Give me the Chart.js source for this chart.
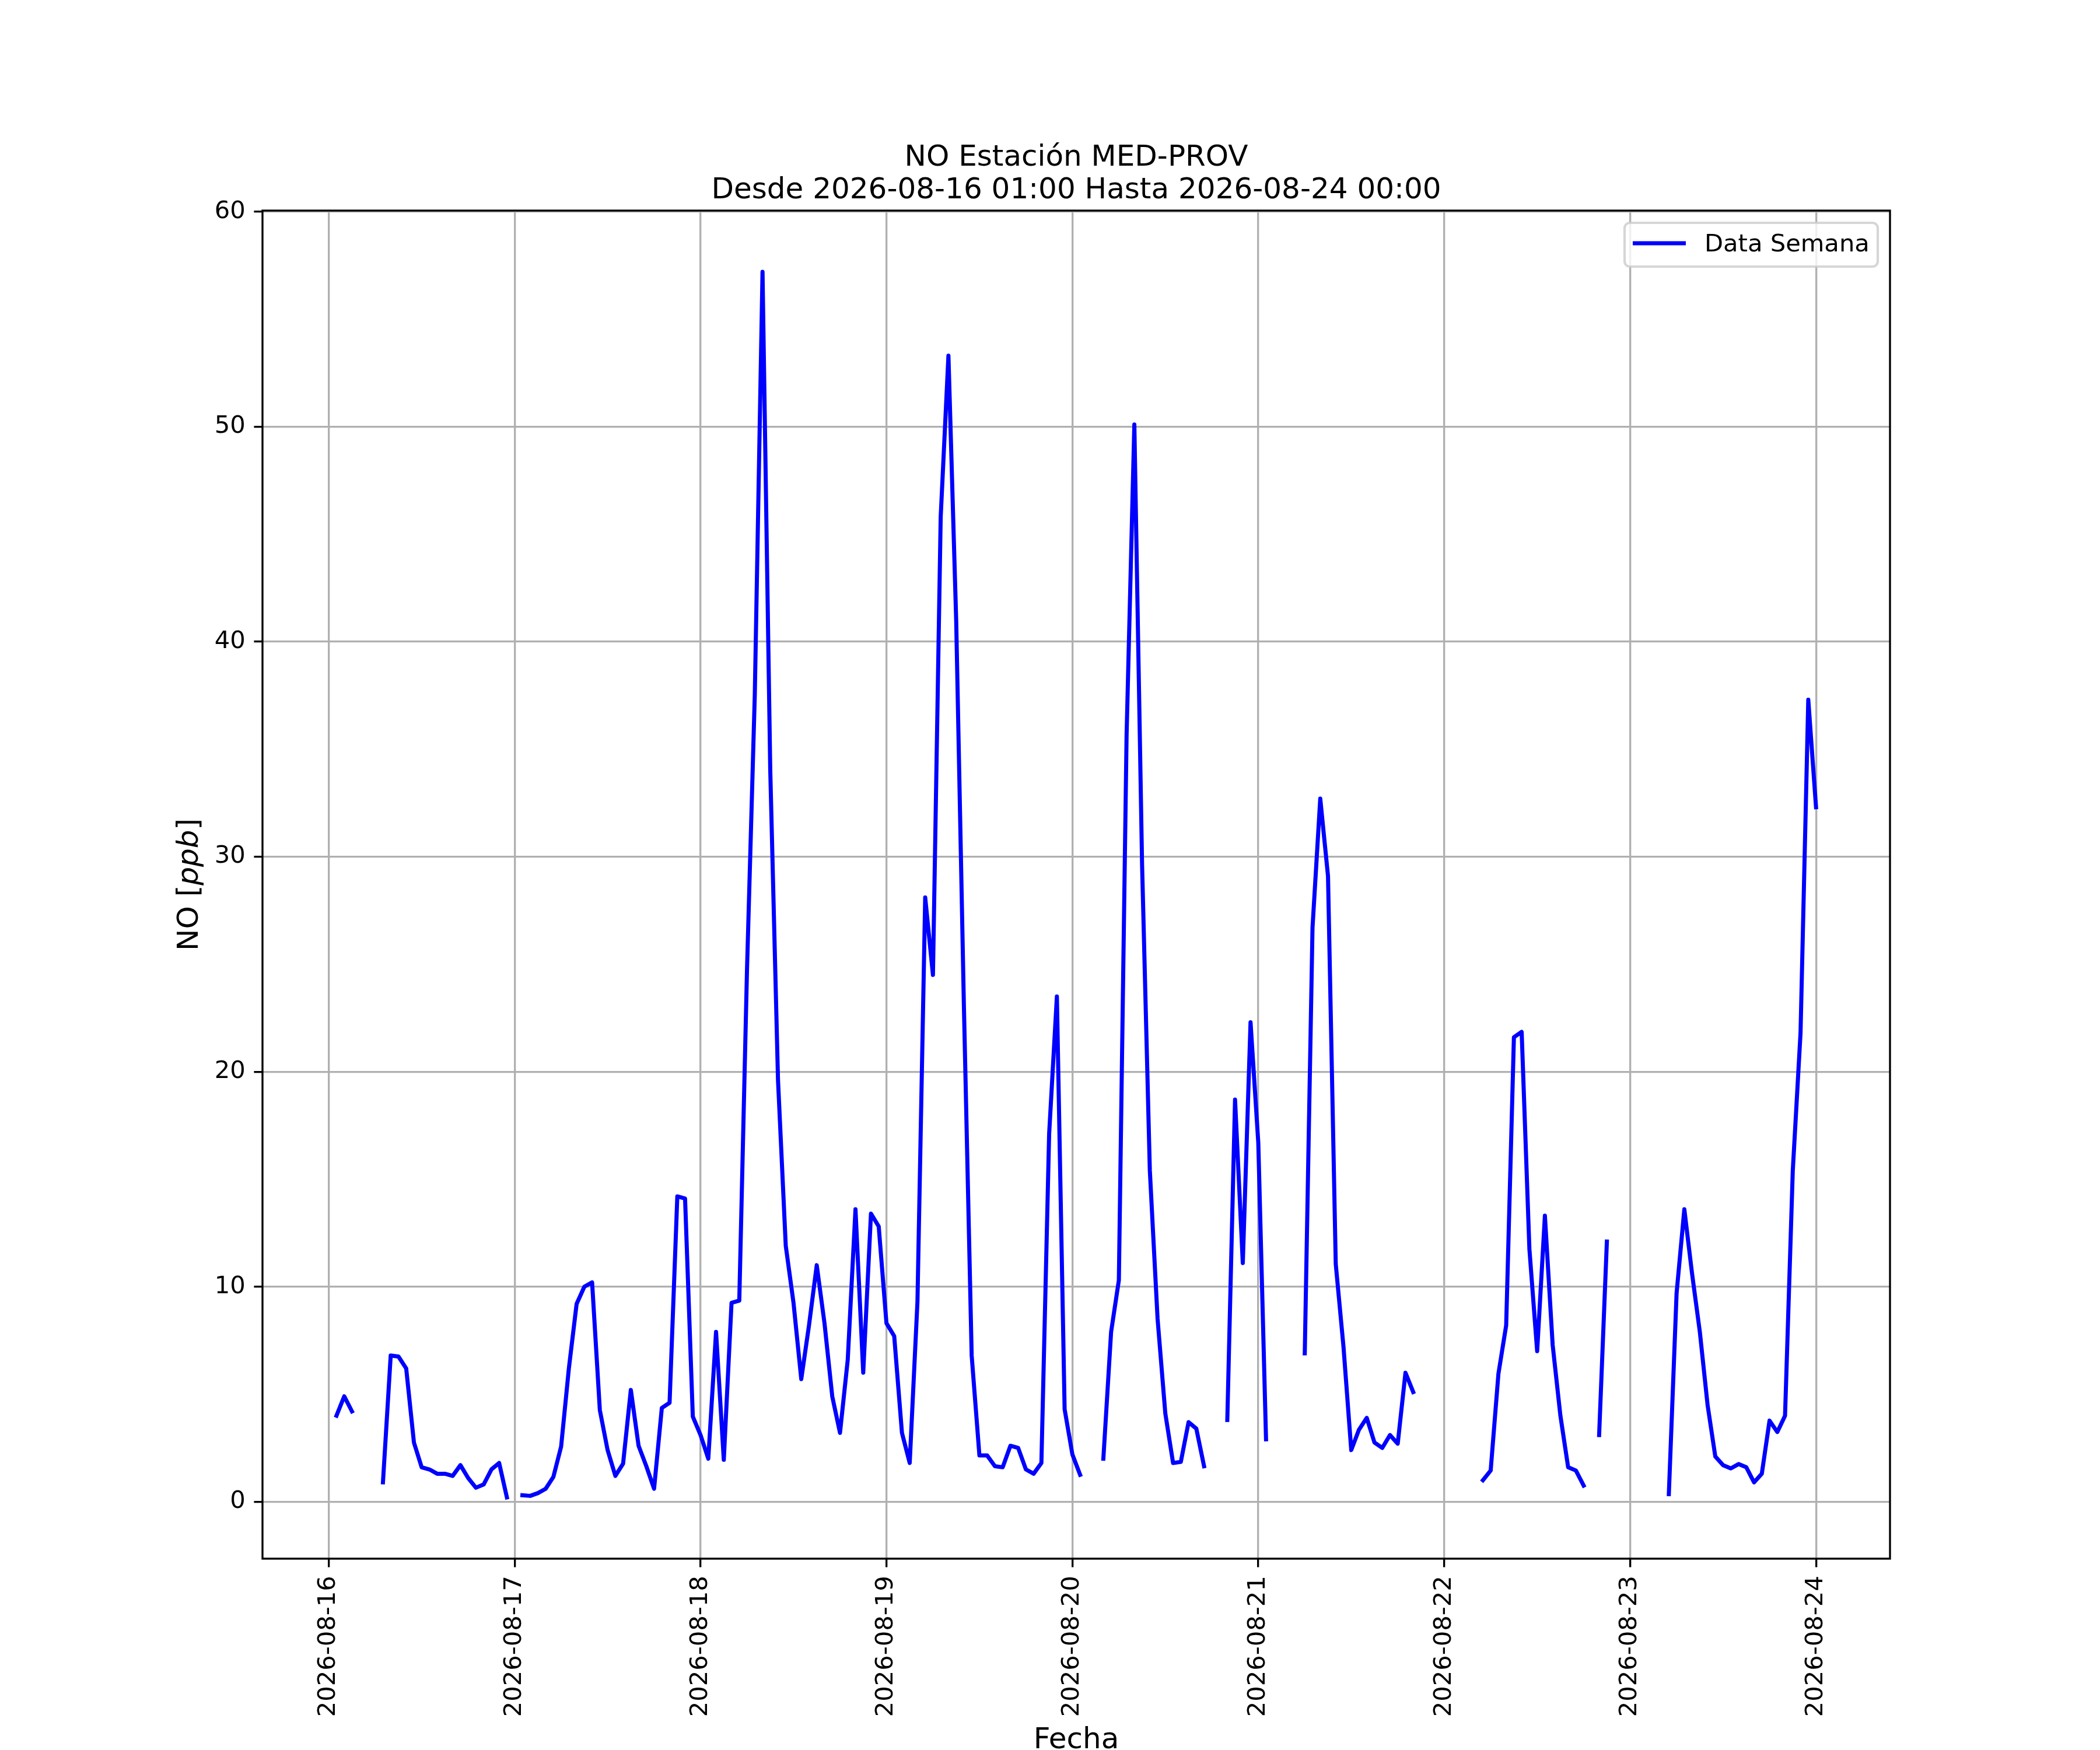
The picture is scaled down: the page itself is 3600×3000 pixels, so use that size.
<!DOCTYPE html>
<html>
<head>
<meta charset="utf-8">
<title>NO Estación MED-PROV</title>
<script src="https://cdn.jsdelivr.net/npm/chart.js@4.4.1/dist/chart.umd.min.js"></script>
<style>
  html, body { margin: 0; padding: 0; background: #fff; overflow: hidden; }
  canvas { display: block; }
</style>
</head>
<body>
<canvas id="noChart" width="3600" height="3000"></canvas>
<script>
// hourly NO [ppb], 2026-08-16 01:00 .. 2026-08-24 00:00 (one row per day, null = no data)
const noValues = [
  4.0, 4.9, 4.2, null, null, null, 0.9, 6.8, 6.75, 6.2, 2.75, 1.6, 1.5, 1.3, 1.3, 1.2, 1.7, 1.1, 0.65, 0.8, 1.5, 1.8, 0.2, null,
  0.3, 0.27, 0.4, 0.6, 1.15, 2.56, 6.2, 9.2, 10.0, 10.2, 4.26, 2.4, 1.2, 1.77, 5.2, 2.6, 1.65, 0.6, 4.36, 4.6, 14.2, 14.1, 3.96, 3.1,
  2.0, 7.9, 1.95, 9.25, 9.35, 24.8, 37.5, 57.2, 34.0, 19.6, 11.9, 9.25, 5.7, 8.2, 11.0, 8.3, 4.9, 3.2, 6.6, 13.6, 6.0, 13.4, 12.8, 8.3,
  7.7, 3.2, 1.8, 9.3, 28.1, 24.5, 45.8, 53.3, 41.0, 23.0, 6.8, 2.15, 2.15, 1.65, 1.6, 2.6, 2.5, 1.5, 1.3, 1.8, 17.1, 23.5, 4.3, 2.2,
  1.25, null, null, 2.0, 7.9, 10.3, 35.7, 50.1, 29.6, 15.4, 8.5, 4.1, 1.8, 1.85, 3.7, 3.4, 1.65, null, null, 3.8, 18.7, 11.1, 22.3, 16.7,
  2.9, null, null, null, null, 6.9, 26.7, 32.7, 29.1, 11.05, 7.2, 2.4, 3.35, 3.9, 2.75, 2.5, 3.1, 2.7, 6.0, 5.1, null, null, null, null,
  null, null, null, null, 1.0, 1.45, 5.95, 8.2, 21.6, 21.85, 11.75, 7.0, 13.3, 7.3, 4.0, 1.6, 1.45, 0.75, null, 3.1, 12.1, null, null, null,
  null, null, null, null, 0.35, 9.7, 13.6, 10.6, 7.9, 4.5, 2.1, 1.7, 1.55, 1.75, 1.6, 0.9, 1.3, 3.77, 3.24, 4.0, 15.4, 21.8, 37.3, 32.3
];

// x axis in hours since 2026-08-16 00:00
const dayTicks  = [0, 24, 48, 72, 96, 120, 144, 168, 192];
const dayLabels = ['2026-08-16', '2026-08-17', '2026-08-18', '2026-08-19', '2026-08-20',
                   '2026-08-21', '2026-08-22', '2026-08-23', '2026-08-24'];
const yTicks = [0, 10, 20, 30, 40, 50, 60];

const titleLines = ['NO Estación MED-PROV', 'Desde 2026-08-16 01:00 Hasta 2026-08-24 00:00'];
const seriesName = 'Data Semana';

const FONT = "'DejaVu Sans', 'Liberation Sans', sans-serif";
const LINE_W = 7;

const points = noValues.map((v, i) => ({ x: i + 1, y: v }));

// title, axis labels, legend and frame, drawn in matplotlib style
const decorations = {
  id: 'decorations',
  afterDraw(chart) {
    const ctx = chart.ctx;
    const a = chart.chartArea;
    const cx = (a.left + a.right) / 2;
    ctx.save();
    ctx.fillStyle = '#000';

    // title
    ctx.font = '50px ' + FONT;
    ctx.textAlign = 'center';
    ctx.textBaseline = 'alphabetic';
    ctx.fillText(titleLines[0], cx, 284);
    ctx.fillText(titleLines[1], cx, 340);

    // x label
    ctx.fillText('Fecha', cx, 2997);

    // y label: NO [ppb] with italic ppb
    const parts = [['NO [', 'normal'], ['ppb', 'italic'], [']', 'normal']];
    let w = 0;
    parts.forEach(p => { ctx.font = p[1] + ' 50px ' + FONT; w += ctx.measureText(p[0]).width; });
    ctx.translate(339, (a.top + a.bottom) / 2);
    ctx.rotate(-Math.PI / 2);
    ctx.textAlign = 'left';
    let px = -w / 2;
    parts.forEach(p => {
      ctx.font = p[1] + ' 50px ' + FONT;
      ctx.fillText(p[0], px, 0);
      px += ctx.measureText(p[0]).width;
    });
    ctx.setTransform(1, 0, 0, 1, 0, 0);

    // frame
    ctx.strokeStyle = '#000';
    ctx.lineWidth = 3.33;
    ctx.strokeRect(a.left, a.top, a.right - a.left, a.bottom - a.top);

    // legend
    const lx = 2785, ly = 382, lw = 434, lh = 75;
    ctx.beginPath();
    ctx.roundRect(lx, ly, lw, lh, 9);
    ctx.fillStyle = 'rgba(255,255,255,0.8)';
    ctx.fill();
    ctx.strokeStyle = 'rgba(204,204,204,0.8)';
    ctx.lineWidth = 4.2;
    ctx.stroke();
    ctx.beginPath();
    ctx.moveTo(2799, 417);
    ctx.lineTo(2890, 417);
    ctx.strokeStyle = '#0000ff';
    ctx.lineWidth = LINE_W;
    ctx.stroke();
    ctx.fillStyle = '#000';
    ctx.font = '41.67px ' + FONT;
    ctx.textAlign = 'left';
    ctx.fillText(seriesName, 2922, 431);
    ctx.restore();
  }
};

const tickFont = { family: FONT, size: 41.67 };
const gridStyle = {
  color: '#b0b0b0',
  lineWidth: 3.33,
  drawTicks: true,
  tickLength: 14.6,
  tickColor: '#000',
  tickWidth: 3.33
};

new Chart(document.getElementById('noChart'), {
  type: 'line',
  data: {
    datasets: [{
      label: seriesName,
      data: points,
      borderColor: '#0000ff',
      backgroundColor: '#0000ff',
      borderWidth: LINE_W,
      borderCapStyle: 'square',
      borderJoinStyle: 'round',
      pointRadius: 0,
      pointHoverRadius: 0,
      tension: 0,
      spanGaps: false,
      fill: false
    }]
  },
  options: {
    responsive: false,
    devicePixelRatio: 1,
    animation: false,
    events: [],
    layout: { padding: { top: 361, left: 0, right: 360, bottom: 0 } },
    plugins: {
      legend: { display: false },
      title: { display: false },
      tooltip: { enabled: false }
    },
    scales: {
      x: {
        type: 'linear',
        min: -8.55,
        max: 201.55,
        afterBuildTicks: s => { s.ticks = dayTicks.map(v => ({ value: v })); },
        afterFit: s => { s.height = 328; },
        ticks: {
          autoSkip: false,
          maxRotation: 90,
          minRotation: 90,
          padding: 14.6,
          color: '#000',
          font: tickFont,
          callback: v => dayLabels[dayTicks.indexOf(v)]
        },
        grid: gridStyle,
        border: { display: false }
      },
      y: {
        type: 'linear',
        min: -2.65,
        max: 60.05,
        afterBuildTicks: s => { s.ticks = yTicks.map(v => ({ value: v })); },
        afterFit: s => { s.width = 450; },
        ticks: {
          padding: 14.6,
          color: '#000',
          font: tickFont,
          callback: v => String(v)
        },
        grid: gridStyle,
        border: { display: false }
      }
    }
  },
  plugins: [decorations]
});
</script>
</body>
</html>
